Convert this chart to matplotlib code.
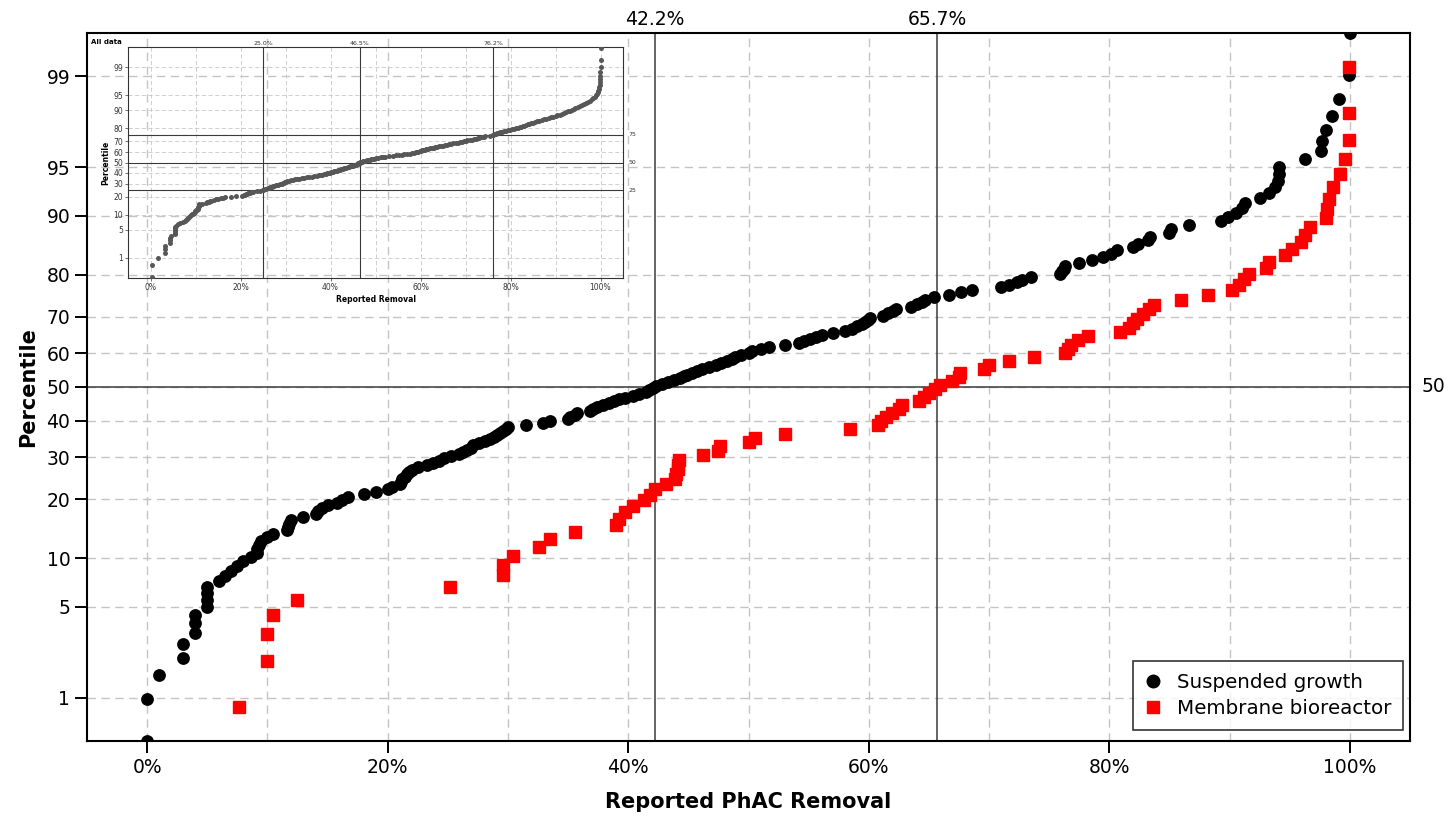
"""
Normal-probability plot of reported PhAC removal: suspended growth vs.
membrane bioreactor, with the pooled data set drawn as a small inset.
"""

from statistics import NormalDist

import matplotlib
matplotlib.use("Agg")
import matplotlib.pyplot as plt
import numpy as np
from matplotlib.ticker import NullLocator

# Reported removal (%) per observation
SUSPENDED_GROWTH = [
    0.0, 0.0, 1.0, 3.0, 3.0, 4.0, 4.0, 4.0, 5.0, 5.0,
    5.0, 5.0, 6.0, 6.5, 7.0, 7.5, 8.0, 8.6, 9.1, 9.1,
    9.3, 9.5, 10.0, 10.5, 11.6, 11.7, 11.8, 12.0, 13.0, 14.0,
    14.2, 14.5, 15.0, 15.8, 16.2, 16.7, 18.0, 19.0, 20.0, 20.4,
    21.0, 21.1, 21.2, 21.4, 21.6, 21.8, 22.0, 22.5, 23.3, 23.8,
    24.3, 24.7, 25.3, 25.9, 26.3, 26.6, 26.9, 27.1, 27.6, 28.1,
    28.5, 28.8, 29.1, 29.3, 29.6, 29.8, 30.0, 31.5, 32.9, 33.5,
    35.0, 35.2, 35.6, 35.7, 36.8, 37.1, 37.4, 37.9, 38.4, 38.8,
    39.2, 39.7, 40.4, 40.9, 41.5, 41.7, 42.1, 42.3, 42.8, 43.3,
    43.8, 44.3, 44.6, 44.9, 45.3, 45.7, 46.1, 46.7, 47.3, 47.7,
    48.2, 48.6, 48.9, 49.4, 50.0, 50.3, 51.0, 51.7, 53.0, 54.2,
    54.6, 55.1, 55.6, 56.1, 57.0, 58.0, 58.6, 59.0, 59.4, 59.7,
    59.9, 60.1, 61.2, 61.6, 62.0, 62.3, 63.5, 64.0, 64.4, 64.7,
    65.4, 66.7, 67.7, 68.6, 71.0, 71.7, 72.3, 72.7, 73.5, 75.9,
    76.1, 76.2, 76.3, 77.5, 78.6, 79.5, 80.1, 80.6, 82.0, 82.4,
    83.2, 83.4, 85.0, 85.1, 86.6, 89.3, 89.9, 90.5, 91.0, 91.3,
    92.5, 93.3, 93.8, 94.0, 94.1, 94.1, 96.3, 97.6, 97.7, 98.0,
    98.5, 99.1, 99.9, 100.0,
]

MEMBRANE_BIOREACTOR = [
    7.6, 10.0, 10.0, 10.5, 12.5, 25.2, 29.6, 29.6, 30.4, 32.6,
    33.5, 35.6, 39.0, 39.2, 39.7, 40.4, 41.3, 41.8, 42.2, 43.1,
    43.9, 44.0, 44.1, 44.1, 44.2, 46.2, 47.5, 47.6, 50.0, 50.5,
    53.0, 58.4, 60.8, 61.0, 61.4, 61.9, 62.5, 62.8, 64.2, 64.6,
    65.0, 65.5, 65.9, 66.9, 67.5, 67.6, 69.6, 70.0, 71.7, 73.7,
    76.3, 76.6, 76.8, 77.4, 78.2, 80.9, 81.6, 82.0, 82.3, 82.8,
    83.3, 83.7, 86.0, 88.2, 90.2, 90.8, 91.2, 91.6, 93.0, 93.3,
    94.6, 95.2, 95.9, 96.3, 96.7, 98.0, 98.1, 98.3, 98.6, 99.2,
    99.6, 99.9, 99.9, 99.9,
]

ALL_DATA = [
    0.3, 0.3, 1.6, 3.3, 3.3, 3.3, 4.4, 4.4, 4.4, 4.6,
    5.4, 5.4, 5.4, 5.4, 5.4, 5.5, 5.6, 6.2, 6.6, 7.3,
    7.7, 7.9, 8.1, 8.4, 8.6, 8.8, 9.0, 9.2, 9.4, 9.6,
    9.8, 9.9, 10.1, 10.3, 10.5, 10.5, 10.6, 10.6, 10.7, 10.7,
    10.8, 10.8, 11.5, 12.3, 12.6, 12.9, 13.2, 13.4, 14.0, 14.6,
    15.0, 15.6, 16.1, 16.6, 17.8, 19.0, 20.4, 20.7, 21.0, 21.2,
    21.4, 21.7, 22.1, 22.4, 22.7, 23.6, 24.3, 25.0, 25.0, 25.4,
    25.7, 26.0, 26.3, 26.6, 26.9, 27.2, 27.5, 27.8, 28.1, 28.4,
    28.8, 29.2, 29.4, 29.6, 29.8, 29.9, 30.1, 30.4, 30.7, 31.2,
    31.7, 32.1, 32.5, 33.0, 33.6, 34.1, 34.7, 35.2, 35.8, 36.4,
    37.0, 37.4, 37.8, 38.1, 38.5, 38.9, 39.3, 39.6, 39.9, 40.2,
    40.5, 40.8, 41.1, 41.4, 41.7, 41.9, 42.2, 42.4, 42.7, 42.9,
    43.2, 43.5, 43.8, 44.1, 44.4, 44.7, 45.0, 45.3, 45.5, 45.7,
    45.9, 46.1, 46.2, 46.3, 46.5, 46.5, 46.8, 47.0, 47.3, 47.6,
    48.0, 48.4, 48.8, 49.1, 49.4, 49.7, 50.1, 50.6, 51.2, 51.7,
    52.2, 53.0, 53.8, 54.6, 55.2, 55.8, 56.3, 57.0, 57.6, 58.2,
    58.6, 58.9, 59.2, 59.5, 59.8, 60.1, 60.3, 60.5, 60.9, 61.3,
    61.7, 62.1, 62.5, 62.9, 63.3, 63.7, 64.1, 64.6, 65.0, 65.4,
    65.8, 66.3, 66.8, 67.3, 67.8, 68.3, 68.7, 69.2, 69.6, 70.0,
    70.4, 70.9, 71.4, 71.9, 72.3, 72.7, 73.1, 73.6, 74.0, 74.4,
    75.4, 76.2, 76.2, 76.4, 76.7, 77.0, 77.3, 77.7, 78.1, 78.5,
    79.0, 79.4, 79.8, 80.3, 80.8, 81.3, 81.7, 82.0, 82.3, 82.7,
    83.0, 83.4, 83.8, 84.2, 84.5, 84.9, 85.4, 85.8, 86.3, 86.9,
    87.5, 87.9, 88.5, 89.0, 89.5, 90.0, 90.4, 90.9, 91.5, 91.9,
    92.3, 92.7, 93.2, 93.6, 94.0, 94.4, 94.9, 95.4, 95.9, 96.4,
    96.8, 97.3, 97.7, 98.1, 98.4, 98.7, 99.0, 99.2, 99.4, 99.5,
    99.6, 99.7, 99.8, 99.8, 99.8, 99.8, 99.9, 100.0, 100.0, 100.0,
]

PERCENTILE_TICKS = [1, 5, 10, 20, 30, 40, 50, 60, 70, 80, 90, 95, 99]
REMOVAL_TICKS = [0, 20, 40, 60, 80, 100]
REMOVAL_GRID = [10, 30, 50, 70, 90]
QUARTILES = [25, 50, 75]

W, H = 1448, 817
GRID_KW = dict(color="#c4c4c4", linestyle=(0, (6, 4)), linewidth=1.0)
REF_COLOR = "#3a3a3a"

_NORMAL = NormalDist()


def probit(p):
    p = np.clip(np.asarray(p, dtype=float), 1e-3, 100 - 1e-3) / 100.0
    return np.vectorize(_NORMAL.inv_cdf, otypes=[float])(p)


def inverse_probit(z):
    z = np.asarray(z, dtype=float)
    return 100.0 * np.vectorize(_NORMAL.cdf, otypes=[float])(z)


def plotting_positions(values):
    """Sorted values with Benard median-rank percentiles."""
    x = np.sort(np.asarray(values, dtype=float))
    ranks = np.arange(1, len(x) + 1)
    return x, 100.0 * (ranks - 0.3) / (len(x) + 0.4)


def px_axes(fig, left, top, right, bottom):
    return fig.add_axes([left / W, 1 - bottom / H, (right - left) / W, (bottom - top) / H])


def setup_probit_axes(ax, grid_kw, labelsize, ticklen, tickwidth, pad):
    ax.set_yscale("function", functions=(probit, inverse_probit))
    ax.set_yticks(PERCENTILE_TICKS)
    ax.set_yticklabels([str(t) for t in PERCENTILE_TICKS])
    ax.yaxis.set_minor_locator(NullLocator())
    ax.set_xlim(-5, 105)
    ax.set_xticks(REMOVAL_TICKS)
    ax.set_xticklabels([f"{t}%" for t in REMOVAL_TICKS])
    ax.set_xticks(REMOVAL_GRID, minor=True)
    ax.tick_params(which="minor", length=0)
    ax.tick_params(which="major", direction="out", length=ticklen, width=tickwidth,
                   labelsize=labelsize, pad=pad)
    ax.grid(True, which="both", axis="x", **grid_kw)
    ax.grid(True, which="major", axis="y", **grid_kw)
    ax.set_axisbelow(True)


def draw_main(fig):
    left, top, right, bottom = 87, 33, 1410, 741
    ax = px_axes(fig, left, top, right, bottom)
    setup_probit_axes(ax, GRID_KW, labelsize=13.5, ticklen=8.5, tickwidth=1.4, pad=3.5)
    for spine in ax.spines.values():
        spine.set_linewidth(1.5)

    sg_x, sg_p = plotting_positions(SUSPENDED_GROWTH)
    mbr_x, mbr_p = plotting_positions(MEMBRANE_BIOREACTOR)
    ax.plot(sg_x, sg_p, "o", color="black", ms=8.2, label="Suspended growth", zorder=3)
    ax.plot(mbr_x, mbr_p, "s", color="red", ms=8.0, label="Membrane bioreactor", zorder=4)
    ax.set_ylim(min(sg_p.min(), mbr_p.min()), max(sg_p.max(), mbr_p.max()))

    for values in (SUSPENDED_GROWTH, MEMBRANE_BIOREACTOR):
        med = np.median(values)
        ax.axvline(med, color=REF_COLOR, lw=1.1, zorder=2)
        ax.annotate(f"{med:.1f}%", xy=(med, 1), xycoords=("data", "axes fraction"),
                    xytext=(0, 3), textcoords="offset points", ha="center", va="bottom",
                    fontsize=13.5)
    ax.axhline(50, color=REF_COLOR, lw=1.1, zorder=2)
    ax.annotate("50", xy=(1, 50), xycoords=("axes fraction", "data"), xytext=(8, 0),
                textcoords="offset points", ha="left", va="center", fontsize=13.5)

    ax.set_xlabel("Reported PhAC Removal", fontsize=15, fontweight="bold", labelpad=11)
    ax.set_ylabel("Percentile", fontsize=15, fontweight="bold", labelpad=6)

    # legend anchored by its lower-right corner
    anchor = ((1403 - left) / (right - left), (bottom - 730) / (bottom - top))
    leg = ax.legend(loc="lower right", bbox_to_anchor=anchor, borderaxespad=0,
                    fontsize=14.3, fancybox=False, edgecolor="black",
                    handlelength=0.8, handletextpad=0.8, markerscale=1.1,
                    borderpad=0.6, labelspacing=0.35)
    leg.get_frame().set_linewidth(1.2)
    return ax


def draw_inset(fig):
    ax = px_axes(fig, 128, 47, 623, 278)
    ax.set_facecolor("none")
    inset_grid = dict(color="#c8c8c8", linestyle=(0, (5, 3)), linewidth=0.6)
    setup_probit_axes(ax, inset_grid, labelsize=5.5, ticklen=2, tickwidth=0.5, pad=1.5)
    ax.tick_params(which="major", colors="#333333")
    for spine in ax.spines.values():
        spine.set_linewidth(0.8)
        spine.set_color("#333333")

    x, p = plotting_positions(ALL_DATA)
    ax.plot(x, p, "o", color="#575757", ms=3.6, mec="none", zorder=3)
    ax.set_ylim(0.24, 99.76)

    for q, val in zip(QUARTILES, np.percentile(ALL_DATA, QUARTILES)):
        ax.axvline(val, color=REF_COLOR, lw=0.8, zorder=2)
        ax.annotate(f"{val:.1f}%", xy=(val, 1), xycoords=("data", "axes fraction"),
                    xytext=(0, 1), textcoords="offset points", ha="center", va="bottom",
                    fontsize=4.5, color="#333333")
        ax.axhline(q, color=REF_COLOR, lw=0.8, zorder=2)
        ax.annotate(str(q), xy=(1, q), xycoords=("axes fraction", "data"), xytext=(4, 0),
                    textcoords="offset points", ha="left", va="center", fontsize=4.5,
                    color="#333333")

    ax.set_xlabel("Reported Removal", fontsize=5.5, fontweight="bold", labelpad=2)
    ax.set_ylabel("Percentile", fontsize=5.5, fontweight="bold", labelpad=2)
    fig.text(91 / W, 1 - 42 / H, "All data", fontsize=5, fontweight="bold", va="center")
    return ax


def main():
    plt.rcParams["font.family"] = ["DejaVu Sans"]
    fig = plt.figure(figsize=(W / 100, H / 100), dpi=100)
    draw_main(fig)
    draw_inset(fig)
    fig.savefig("out.png", dpi=100)
    plt.close(fig)


if __name__ == "__main__":
    main()
